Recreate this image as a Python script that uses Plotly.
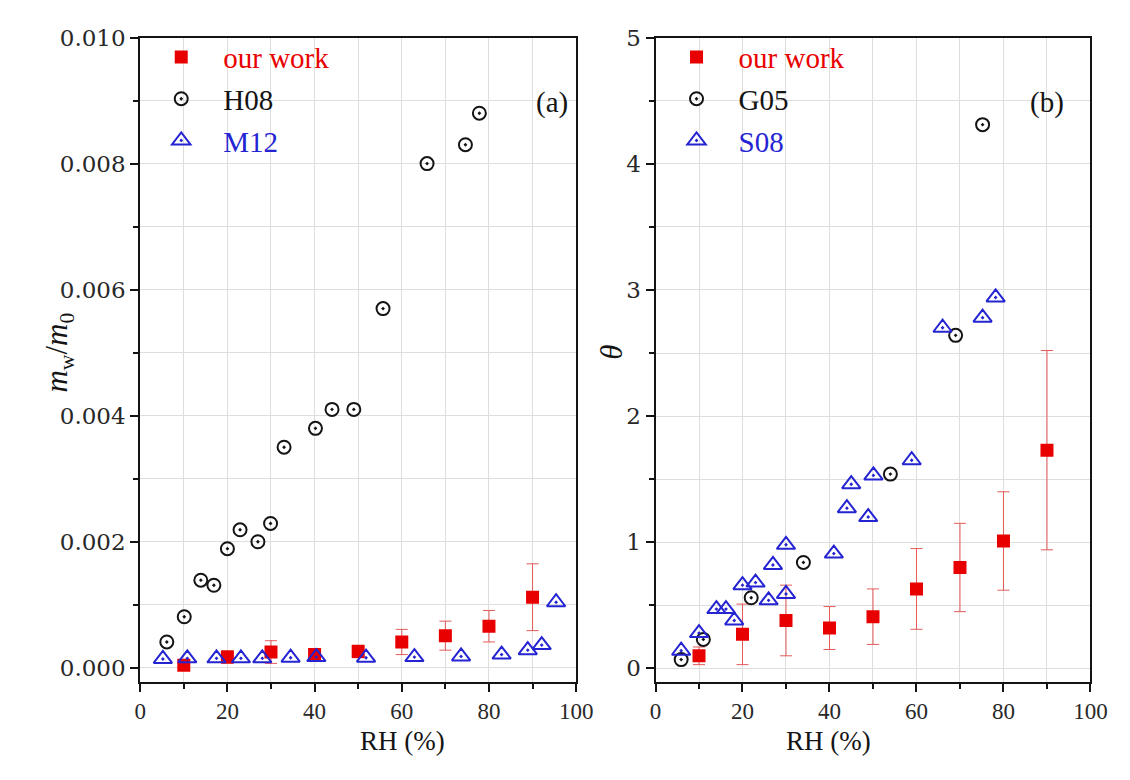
import plotly.graph_objects as go

# ---------------- data ----------------
# panel (a): m_w/m_0 vs RH
our_a_x = [10, 20, 30, 40, 50, 60, 70, 80, 90]
our_a_y = [0.00004, 0.00017, 0.00025, 0.00021, 0.00026, 0.00041, 0.00051, 0.00066, 0.00112]
our_a_err = [0.00004, 0.00010, 0.00018, 0.00008, 0.00010, 0.00020, 0.00023, 0.00025, 0.00053]

h08_x = [6.1, 10.1, 13.9, 16.9, 20.0, 22.9, 27.0, 29.9, 33.0, 40.2, 44.0, 49.0, 55.7, 65.8, 74.6, 77.8]
h08_y = [0.00041, 0.00081, 0.00139, 0.00131, 0.00189, 0.00219, 0.00200, 0.00229, 0.00350,
         0.00380, 0.00410, 0.00410, 0.00570, 0.00800, 0.00830, 0.00880]

m12_x = [5.2, 10.8, 17.5, 23.1, 28.0, 34.5, 40.4, 51.8, 62.9, 73.6, 82.9, 88.9, 92.1, 95.4]
m12_y = [0.00014, 0.00015, 0.00015, 0.00015, 0.00015, 0.00016, 0.00017, 0.00016, 0.00017,
         0.00018, 0.00021, 0.00028, 0.00036, 0.00104]

# panel (b): theta vs RH
our_b_x = [10, 20, 30, 40, 50, 60, 70, 80, 90]
our_b_y = [0.10, 0.27, 0.38, 0.32, 0.41, 0.63, 0.80, 1.01, 1.73]
our_b_err = [0.07, 0.24, 0.28, 0.17, 0.22, 0.32, 0.35, 0.39, 0.79]

g05_x = [5.9, 11.0, 22.0, 34.0, 54.0, 69.0, 75.2]
g05_y = [0.07, 0.23, 0.56, 0.84, 1.54, 2.64, 4.31]

s08_x = [5.9, 10.0, 14.0, 16.2, 18.1, 20.0, 23.0, 26.0, 27.0, 30.0, 30.0, 41.0, 44.0, 45.0,
         48.9, 50.1, 58.9, 66.0, 75.2, 78.2]
s08_y = [0.14, 0.28, 0.47, 0.47, 0.38, 0.66, 0.68, 0.54, 0.82, 0.59, 0.98, 0.91, 1.27, 1.46,
         1.20, 1.53, 1.65, 2.70, 2.78, 2.94]

x_ticks = [0, 20, 40, 60, 80, 100]

# ---------------- style ----------------
RED = "rgb(232,0,0)"
ERR = "rgb(228,90,90)"
BLUE = "rgb(36,36,210)"
BLACK = "rgb(20,20,20)"
SERIF = "'Liberation Serif', 'Times New Roman', Times, serif"
WIDE_SERIF = "'DejaVu Serif', serif"
W, H = 1130, 780

def px_x(p):
    return p / W

def px_y(p):
    return 1 - p / H

fig = go.Figure()

def add_panel(xa, ya, legend, our_x, our_y, our_err, c_x, c_y, c_name, t_x, t_y, t_name):
    fig.add_trace(go.Scatter(
        x=our_x, y=our_y, mode="markers", xaxis=xa, yaxis=ya, legend=legend,
        name=f"<span style='color:{RED}'>our work</span>", legendgroup=legend + "a",
        marker=dict(symbol="square", size=13, color=RED),
        error_y=dict(type="data", array=our_err, visible=True, color=ERR, thickness=1, width=6),
    ))
    fig.add_trace(go.Scatter(
        x=c_x, y=c_y, mode="markers", xaxis=xa, yaxis=ya, legend=legend,
        name=f"<span style='color:{BLACK}'>{c_name}</span>", legendgroup=legend + "b",
        marker=dict(symbol="circle-open-dot", size=13, color=BLACK, line=dict(width=2, color=BLACK)),
    ))
    fig.add_trace(go.Scatter(
        x=t_x, y=t_y, mode="markers", xaxis=xa, yaxis=ya, legend=legend,
        name=f"<span style='color:{BLUE}'>{t_name}</span>", legendgroup=legend + "c",
        marker=dict(symbol="triangle-up-open-dot", size=16, color=BLUE, line=dict(width=2, color=BLUE)),
    ))

add_panel("x", "y", "legend", our_a_x, our_a_y, our_a_err, h08_x, h08_y, "H08", m12_x, m12_y, "M12")
add_panel("x2", "y2", "legend2", our_b_x, our_b_y, our_b_err, g05_x, g05_y, "G05", s08_x, s08_y, "S08")

GRID = "rgb(222,222,222)"

def xaxis_main(domain, anchor):
    return dict(
        domain=domain, anchor=anchor, range=[0, 100], tickvals=x_ticks,
        ticks="outside", ticklen=8, tickwidth=1.5, tickcolor=BLACK,
        minor=dict(dtick=10, tick0=0, ticks="outside", ticklen=5, tickwidth=1.5, tickcolor=BLACK,
                   showgrid=True, gridcolor=GRID, gridwidth=1),
        showgrid=True, gridcolor=GRID, gridwidth=1,
        showline=True, linecolor=BLACK, linewidth=2, mirror=True,
        zeroline=False,
        tickfont=dict(family=SERIF, size=23, color="rgb(40,40,40)"),
    )

def xaxis_top(domain, overlay, anchor):
    return dict(
        domain=domain, overlaying=overlay, anchor=anchor, side="top", range=[0, 100],
        tickvals=x_ticks, ticks="inside", ticklen=8, tickwidth=1.5, tickcolor=BLACK,
        minor=dict(dtick=10, tick0=0, ticks="inside", ticklen=5, tickwidth=1.5, tickcolor=BLACK),
        showticklabels=False, showgrid=False, showline=False, zeroline=False,
    )

def yaxis_main(domain, anchor, rng, dtick, mdtick, fmt):
    return dict(
        domain=domain, anchor=anchor, range=rng, tick0=0, dtick=dtick, tickformat=fmt,
        ticks="outside", ticklen=8, tickwidth=1.5, tickcolor=BLACK,
        minor=dict(dtick=mdtick, tick0=0, ticks="outside", ticklen=5, tickwidth=1.5, tickcolor=BLACK,
                   showgrid=True, gridcolor=GRID, gridwidth=1),
        showgrid=True, gridcolor=GRID, gridwidth=1,
        showline=True, linecolor=BLACK, linewidth=2, mirror=True,
        zeroline=False,
        tickfont=dict(family=WIDE_SERIF, size=23, color="rgb(40,40,40)"),
    )

def yaxis_right(domain, overlay, anchor, rng, dtick, mdtick):
    return dict(
        domain=domain, overlaying=overlay, anchor=anchor, side="right", range=rng,
        tick0=0, dtick=dtick, ticks="inside", ticklen=8, tickwidth=1.5, tickcolor=BLACK,
        minor=dict(dtick=mdtick, tick0=0, ticks="inside", ticklen=5, tickwidth=1.5, tickcolor=BLACK),
        showticklabels=False, showgrid=False, showline=False, zeroline=False,
    )

ydom = [px_y(680), px_y(25)]
xdom_a = [px_x(137), px_x(582)]
xdom_b = [px_x(663), px_x(1107)]
yr_a = [-0.00022, 0.0100]
yr_b = [-0.105, 5.0]

legend_font = dict(family=SERIF, size=29)

fig.update_layout(
    width=W, height=H,
    margin=dict(l=0, r=0, t=0, b=0),
    paper_bgcolor="white", plot_bgcolor="white",
    showlegend=True,
    xaxis=xaxis_main(xdom_a, "y"),
    yaxis=yaxis_main(ydom, "x", yr_a, 0.002, 0.001, ".3f"),
    xaxis2=xaxis_main(xdom_b, "y2"),
    yaxis2=yaxis_main(ydom, "x2", yr_b, 1, 0.5, "d"),
    xaxis3=xaxis_top(xdom_a, "x", "y"),
    yaxis3=yaxis_right(ydom, "y", "x", yr_a, 0.002, 0.001),
    xaxis4=xaxis_top(xdom_b, "x2", "y2"),
    yaxis4=yaxis_right(ydom, "y2", "x2", yr_b, 1, 0.5),
    legend=dict(x=px_x(136), y=px_y(19), xanchor="left", yanchor="top",
                bgcolor="rgba(0,0,0,0)", font=legend_font, tracegroupgap=1, itemwidth=74),
    legend2=dict(x=px_x(662), y=px_y(19), xanchor="left", yanchor="top",
                 bgcolor="rgba(0,0,0,0)", font=legend_font, tracegroupgap=1, itemwidth=74),
    annotations=[
        dict(text="(a)", x=px_x(557), y=px_y(72), xref="paper", yref="paper", showarrow=False,
             font=dict(family=SERIF, size=29, color=BLACK)),
        dict(text="(b)", x=px_x(1082), y=px_y(72), xref="paper", yref="paper", showarrow=False,
             font=dict(family=SERIF, size=29, color=BLACK)),
        dict(text="RH (%)", x=px_x(359), y=px_y(758), xref="paper", yref="paper", showarrow=False,
             font=dict(family=SERIF, size=27, color=BLACK)),
        dict(text="RH (%)", x=px_x(885), y=px_y(758), xref="paper", yref="paper", showarrow=False,
             font=dict(family=SERIF, size=27, color=BLACK)),
        dict(text="<i>m</i><sub>w</sub>/<i>m</i><sub>0</sub>", x=px_x(32), y=px_y(345),
             xref="paper", yref="paper", showarrow=False, textangle=-90,
             font=dict(family=SERIF, size=31, color=BLACK)),
        dict(text="<i>θ</i>", x=px_x(618), y=px_y(345), xref="paper", yref="paper",
             showarrow=False, textangle=-90,
             font=dict(family=SERIF, size=31, color=BLACK)),
    ],
)

fig.write_html("out.html")
